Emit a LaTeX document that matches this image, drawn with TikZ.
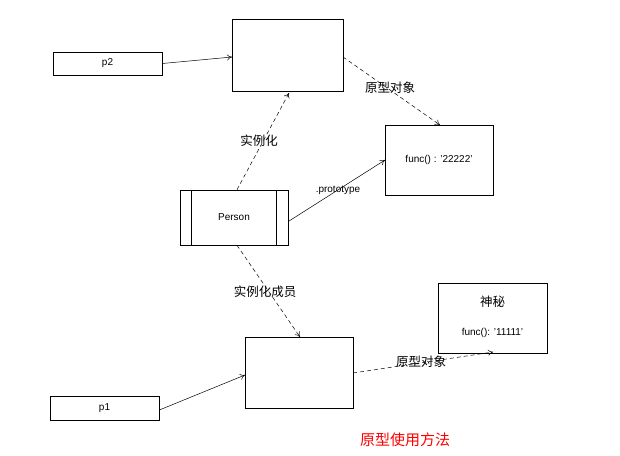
\documentclass[tikz,border=0pt]{standalone}
\usepackage{fontspec}
\setmainfont{Liberation Sans}
\newfontfamily\cjk{Noto Sans CJK SC}
\usetikzlibrary{arrows.meta,positioning}
\tikzset{
  box/.style={draw, line width=0.6pt, inner sep=0pt, font=\fontsize{10}{11}\selectfont},
  link/.style={-{To[length=5pt,width=6pt]}, line width=0.5pt},
  dlink/.style={link, dashed, dash pattern=on 4pt off 3pt},
  lbl/.style={font=\cjk\fontsize{12.5}{14}\selectfont}
}
\begin{document}
\begin{tikzpicture}[x=1pt,y=-1pt]
\useasboundingbox (0,0) rectangle (620,455);

\node[box, minimum width=109pt, minimum height=23pt] (p2) at (107.5,63.5) {p2};
\node[box, minimum width=111pt, minimum height=72pt] (Proto) at (287.5,55) {};
\node[box, minimum width=108pt, minimum height=70pt, align=center] (FuncA) at (439,160) {func() : '22222'};
\node[box, minimum width=108pt, minimum height=55pt] (Person) at (234,217.5) {Person};
\draw[line width=0.6pt] (Person.north west) ++(12,0) -- ++(0,55);
\draw[line width=0.6pt] (Person.north east) ++(-12,0) -- ++(0,55);
\node[box, minimum width=108pt, minimum height=71pt] (Member) at (299,372.5) {};
\node[box, minimum width=109pt, minimum height=70pt] (Secret) at (492.5,318) {};
\node[lbl] (SecretTitle) at (492.5,302) {神秘};
\node[font=\fontsize{10}{11}\selectfont] (SecretFunc) at (492.5,333) {func(): '11111'};
\node[box, minimum width=109pt, minimum height=24pt] (p1) at (104.5,408) {p1};

\coordinate (ProtoIn) at (289,93);
\coordinate (FuncIn) at (440,125);
\coordinate (MemberIn) at (300,337);
\coordinate (SecretIn) at (493,352);

\draw[link] (p2.east) -- (232,57);
\draw[dlink] (Person.north) ++(3,0) -- (ProtoIn);
\draw[dlink] (343,57) -- (FuncIn);
\draw[link] (Person.east) ++(0,4) -- (385,160);
\draw[dlink] (Person.south) ++(3,0) -- (MemberIn);
\draw[link] (p1.east) ++(0,2) -- (245,375);
\draw[dlink] (353,373) -- (SecretIn);

\node[lbl] at (259,141) {实例化};
\node[lbl] at (390,88) {原型对象};
\node[font=\fontsize{10}{11}\selectfont] at (338,190) {.prototype};
\node[lbl] at (265,292) {实例化成员};
\node[lbl] at (421,362) {原型对象};
\node[text=red, font=\cjk\fontsize{15}{17}\selectfont] at (405,440) {原型使用方法};

\end{tikzpicture}
\end{document}
